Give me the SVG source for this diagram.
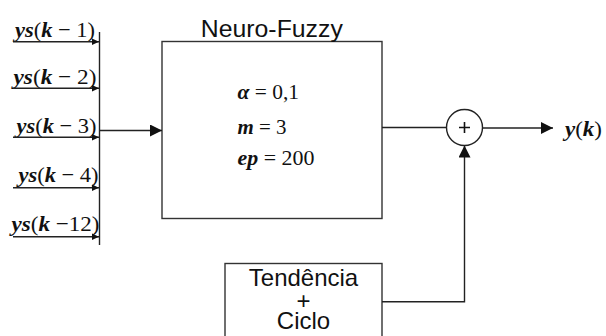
<svg xmlns="http://www.w3.org/2000/svg" width="606" height="336" viewBox="0 0 606 336">
<style>
.box{fill:#fff;stroke:#333;stroke-width:1.4}
.ln{fill:none;stroke:#222;stroke-width:1.4}
.sans{font-family:"Liberation Sans",Arial,sans-serif;font-size:24px;fill:#111}
.math{font-family:"Liberation Serif","Times New Roman",serif;font-size:22px;fill:#111}
.bi{font-weight:bold;font-style:italic}
</style>
<defs>
<marker id="big" markerUnits="userSpaceOnUse" markerWidth="13" markerHeight="13" refX="12" refY="6" orient="auto">
<path d="M0,0 L12,6 L0,12 Z" fill="#111"/>
</marker>
<marker id="small" markerUnits="userSpaceOnUse" markerWidth="8" markerHeight="8" refX="7.5" refY="3.5" orient="auto">
<path d="M0,0 L7.5,3.5 L0,7 Z" fill="#111"/>
</marker>
</defs>
<rect width="606" height="336" fill="#fff"/>

<g id="inputs">
<text class="math" x="15" y="37" textLength="80" lengthAdjust="spacingAndGlyphs"><tspan class="bi">ys</tspan>(<tspan class="bi">k</tspan> − 1)</text>
<text class="math" x="13.5" y="84" textLength="83" lengthAdjust="spacingAndGlyphs"><tspan class="bi">ys</tspan>(<tspan class="bi">k</tspan> − 2)</text>
<text class="math" x="16.5" y="132.5" textLength="80" lengthAdjust="spacingAndGlyphs"><tspan class="bi">ys</tspan>(<tspan class="bi">k</tspan> − 3)</text>
<text class="math" x="18.5" y="181.5" textLength="80" lengthAdjust="spacingAndGlyphs"><tspan class="bi">ys</tspan>(<tspan class="bi">k</tspan> − 4)</text>
<text class="math" x="11.5" y="230.5" textLength="88" lengthAdjust="spacingAndGlyphs"><tspan class="bi">ys</tspan>(<tspan class="bi">k</tspan> −12)</text>
</g>

<g id="neuro-fuzzy">
<rect class="box" x="162" y="41.5" width="220" height="177"/>
<text class="sans" x="271.8" y="36.5" text-anchor="middle" textLength="142" lengthAdjust="spacingAndGlyphs">Neuro-Fuzzy</text>
<text class="math" x="237.5" y="99" font-size="23" textLength="61.5" lengthAdjust="spacingAndGlyphs"><tspan class="bi">α</tspan> = 0,1</text>
<text class="math" x="237.5" y="134" font-size="23" textLength="49" lengthAdjust="spacingAndGlyphs"><tspan class="bi">m</tspan> = 3</text>
<text class="math" x="237.5" y="165" font-size="23" textLength="77" lengthAdjust="spacingAndGlyphs"><tspan class="bi">ep</tspan> = 200</text>
</g>

<g id="sum">
<circle cx="464.5" cy="127.5" r="18" fill="#fff" stroke="#222" stroke-width="1.4"/>
<path d="M459,127.5 H470 M464.5,122 V133" stroke="#111" stroke-width="1.6"/>
</g>

<g id="tendencia">
<rect class="box" x="225" y="263.5" width="157" height="80"/>
<text class="sans" text-anchor="middle"><tspan x="303.5" y="286">Tendência</tspan><tspan x="303.5" y="308.5">+</tspan><tspan x="303.5" y="329">Ciclo</tspan></text>
</g>

<g id="output">
<text class="math" x="565" y="136" font-size="22" textLength="37" lengthAdjust="spacingAndGlyphs"><tspan class="bi">y</tspan>(<tspan class="bi">k</tspan>)</text>
</g>

<g id="connectors">
<line class="ln" x1="99.5" y1="32" x2="99.5" y2="245"/>
<line class="ln" x1="13" y1="41.7" x2="99" y2="41.7" marker-end="url(#small)"/>
<line class="ln" x1="13" y1="88.3" x2="99" y2="88.3" marker-end="url(#small)"/>
<line class="ln" x1="13" y1="137.3" x2="99" y2="137.3" marker-end="url(#small)"/>
<line class="ln" x1="13" y1="187.8" x2="99" y2="187.8" marker-end="url(#small)"/>
<line class="ln" x1="13" y1="236.7" x2="99" y2="236.7" marker-end="url(#small)"/>
<line class="ln" x1="99.5" y1="130.5" x2="162" y2="130.5" marker-end="url(#big)"/>
<line class="ln" x1="382" y1="127.5" x2="446.5" y2="127.5"/>
<line class="ln" x1="482.5" y1="128" x2="553" y2="128" marker-end="url(#big)"/>
<polyline class="ln" points="382,301.7 464.5,301.7 464.5,145.5" marker-end="url(#big)"/>
</g>
</svg>
